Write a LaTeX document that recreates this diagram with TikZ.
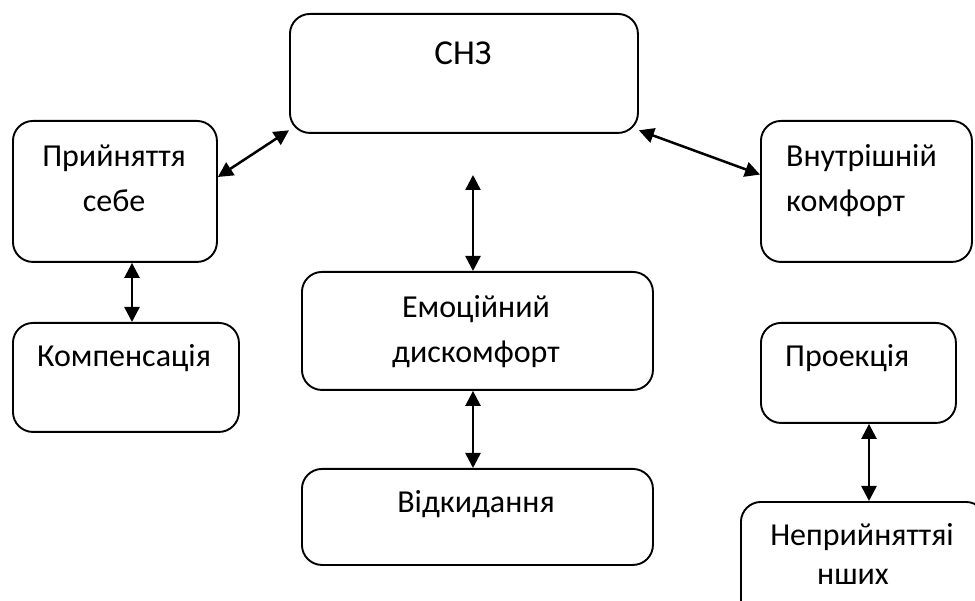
\documentclass[tikz,border=0pt]{standalone}
\usepackage{fontspec}
\setmainfont{Carlito}
\usetikzlibrary{arrows.meta}
\begin{document}
\begin{tikzpicture}[x=1pt,y=-1pt,
  box/.style={draw, line width=1.9pt, rounded corners=20pt, inner sep=0pt, anchor=north west},
  txt/.style={anchor=base, inner sep=0pt, font=\fontsize{32}{38}\selectfont},
  big/.style={anchor=base, inner sep=0pt, font=\fontsize{35}{42}\selectfont},
  link/.style={line width=2.5pt, {Triangle[length=15pt,width=15pt]}-{Triangle[length=15pt,width=15pt]}}]
\useasboundingbox (0,0) rectangle (975,601);
\clip (0,0) rectangle (975,601);
% boxes
\node[box, minimum width=348pt, minimum height=119pt] (ch3) at (289,13) {};
\node[box, minimum width=204pt, minimum height=141pt] (prij) at (12,120) {};
\node[box, minimum width=211pt, minimum height=141pt] (vnut) at (760,120) {};
\node[box, minimum width=351pt, minimum height=118pt] (emo) at (301,271) {};
\node[box, minimum width=226pt, minimum height=109pt] (komp) at (12,322) {};
\node[box, minimum width=195pt, minimum height=100pt] (proj) at (760,322) {};
\node[box, minimum width=351pt, minimum height=96pt] (otk) at (301,468) {};
\node[box, minimum width=245pt, minimum height=140pt] (nepr) at (740,501) {};
% texts
\node[big] (t1) at (463,65) {СНЗ};
\node[txt] (t2) at (114,167) {Прийняття};
\node[txt] (t3) at (114,212) {себе};
\node[txt, anchor=base west] (t4) at (786,167) {Внутрішній};
\node[txt, anchor=base west] (t5) at (786,212) {комфорт};
\node[txt] (t6) at (476,318) {Емоційний};
\node[txt] (t7) at (476,363) {дискомфорт};
\node[txt] (t8) at (124,367) {Компенсація};
\node[txt, anchor=base west] (t9) at (785,367) {Проекція};
\node[txt] (t10) at (476,512) {Відкидання};
\node[txt] (t11) at (862,545) {Неприйняттяі};
\node[txt] (t12) at (853,584) {нших};
% helper coordinates
\coordinate (xc) at (473,175);
\coordinate (xl) at (132,0);
\coordinate (xr) at (869,0);
% connectors
\draw[link] (prij.8.6) -- (ch3.198.7);
\draw[link] (ch3.-18.5) -- (vnut.171.6);
\draw[link] (xc) -- (xc |- emo.north);
\draw[link] (prij.south -| xl) -- (komp.north -| xl);
\draw[link] (emo.south -| xc) -- (otk.north -| xc);
\draw[link] (proj.south -| xr) -- (nepr.north -| xr);
\end{tikzpicture}
\end{document}
